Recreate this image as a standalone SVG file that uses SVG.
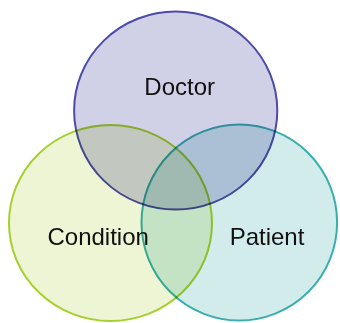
<svg xmlns="http://www.w3.org/2000/svg" width="340" height="323" viewBox="0 0 340 323">
<style>
.c{stroke-width:2;mix-blend-mode:multiply}
.t{font-family:"Liberation Sans",Arial,sans-serif;font-size:24px;fill:#111;text-anchor:middle}
</style>
<rect width="340" height="323" fill="#fff"/>
<g style="isolation:isolate">
<g id="doctor">
<ellipse class="c" cx="175.7" cy="110.6" rx="101.6" ry="99" fill="#d0d0e6" stroke="#4b4ba8"/>
</g>
<g id="condition">
<ellipse class="c" cx="110.5" cy="223" rx="101.5" ry="98" fill="#eef5d4" stroke="#a6d030"/>
</g>
<g id="patient">
<ellipse class="c" cx="239.3" cy="222.5" rx="97.8" ry="98" fill="#d2ecec" stroke="#3aaeae"/>
</g>
</g>
<g id="labels">
<text class="t" x="179.7" y="94.7">Doctor</text>
<text class="t" x="98.2" y="245">Condition</text>
<text class="t" x="267" y="245">Patient</text>
</g>
</svg>
